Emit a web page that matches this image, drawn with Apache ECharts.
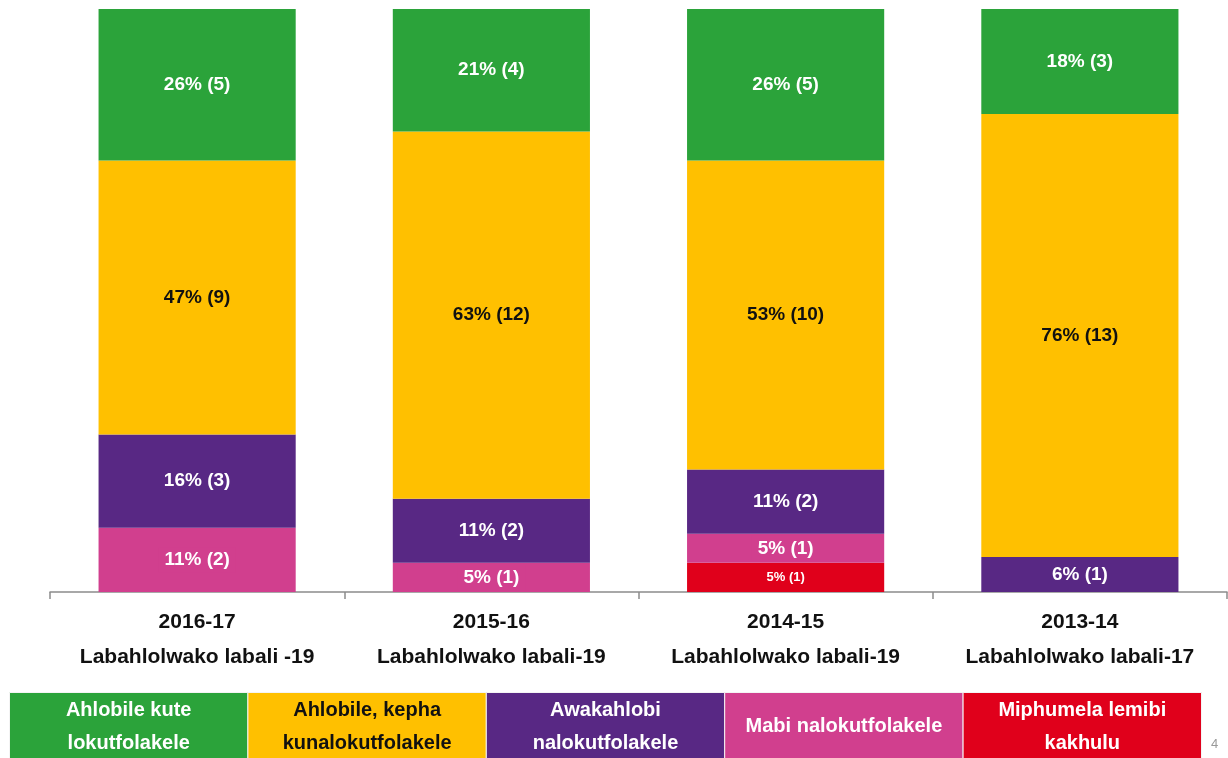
<!DOCTYPE html>
<html>
<head>
<meta charset="utf-8">
<script src="https://cdn.jsdelivr.net/npm/echarts@6/dist/echarts.min.js"></script>
<style>
  html, body { margin: 0; padding: 0; background: #fff; }
  #main { width: 1228px; height: 758px; }
</style>
</head>
<body>
<div id="main"></div>
<script>
const FONT = "'Liberation Sans Narrow', 'Arial Narrow', 'Liberation Sans', sans-serif";

// categories
const years = ['2016-17', '2015-16', '2014-15', '2013-14'];
const reviewers = ['Labahlolwako labali -19', 'Labahlolwako labali-19', 'Labahlolwako labali-19', 'Labahlolwako labali-17'];

// series, bottom to top
const seriesNames = [
    'Miphumela lemibi kakhulu',
    'Mabi nalokutfolakele',
    'Awakahlobi nalokutfolakele',
    'Ahlobile, kepha kunalokutfolakele',
    'Ahlobile kute lokutfolakele'
];
const legendLines = [
    'Ahlobile kute\nlokutfolakele',
    'Ahlobile, kepha\nkunalokutfolakele',
    'Awakahlobi\nnalokutfolakele',
    'Mabi nalokutfolakele',
    'Miphumela lemibi\nkakhulu'
];
const redPct = [null, null, 5, null];
const redCount = [null, null, 1, null];
const pinkPct = [11, 5, 5, null];
const pinkCount = [2, 1, 1, null];
const purplePct = [16, 11, 11, 6];
const purpleCount = [3, 2, 2, 1];
const yellowPct = [47, 63, 53, 76];
const yellowCount = [9, 12, 10, 13];
const greenPct = [26, 21, 26, 18];
const greenCount = [5, 4, 5, 3];

const colors = ['#e0001b', '#d13f8e', '#582884', '#ffc000', '#2ba33a'];
const pcts = [redPct, pinkPct, purplePct, yellowPct, greenPct];
const counts = [redCount, pinkCount, purpleCount, yellowCount, greenCount];
const labelColors = ['#fff', '#fff', '#fff', '#111', '#fff'];
const labelSizes = [13, 19, 19, 19, 19];

const series = seriesNames.map((name, i) => ({
    name: name,
    type: 'bar',
    stack: 'total',
    barWidth: '67%',
    data: pcts[i],
    itemStyle: { color: colors[i] },
    label: {
        show: true,
        position: 'inside',
        fontFamily: FONT,
        fontWeight: 'bold',
        fontSize: labelSizes[i],
        color: labelColors[i],
        backgroundColor: i === 1 ? colors[1] : 'transparent',
        padding: i === 1 ? [3, 6, 3, 6] : 0,
        formatter: p => p.value == null ? '' : p.value + '% (' + counts[i][p.dataIndex] + ')'
    }
}));

// legend boxes along the bottom
const boxW = 238.4, boxX = 9, boxY = 692;
const legendOrder = [4, 3, 2, 1, 0];
const graphics = legendOrder.map((si, k) => ({
    type: 'group',
    left: boxX + k * boxW,
    top: boxY,
    children: [
        {
            type: 'rect',
            shape: { x: 0, y: 0, width: boxW, height: 70 },
            style: { fill: colors[si], stroke: '#f4f4f4', lineWidth: 1 }
        },
        {
            type: 'text',
            x: boxW / 2,
            y: 34,
            style: {
                text: legendLines[k],
                fill: si === 3 ? '#111' : '#fff',
                font: 'bold 20px ' + FONT,
                align: 'center',
                verticalAlign: 'middle',
                lineHeight: 33
            }
        }
    ]
}));
graphics.push({
    type: 'text',
    left: 1211,
    top: 738,
    style: { text: '4', fill: '#999', font: '13px ' + FONT }
});

const chart = echarts.init(document.getElementById('main'));
chart.setOption({
    animation: false,
    textStyle: { fontFamily: FONT },
    grid: { left: 50, right: 1, top: 9, bottom: 166, containLabel: false },
    xAxis: {
        type: 'category',
        data: years,
        axisLine: { lineStyle: { color: '#8c8c8c', width: 1.5 } },
        axisTick: { show: true, length: 7, lineStyle: { color: '#8c8c8c', width: 1.5 } },
        axisLabel: {
            margin: 13,
            interval: 0,
            formatter: (v, i) => '{a|' + v + '}\n{b|' + reviewers[i] + '}',
            rich: {
                a: { fontFamily: FONT, fontSize: 21, fontWeight: 'bold', color: '#111', lineHeight: 35 },
                b: { fontFamily: FONT, fontSize: 21, fontWeight: 'bold', color: '#111', lineHeight: 35 }
            }
        }
    },
    yAxis: {
        type: 'value',
        min: 0,
        max: 100,
        show: false
    },
    series: series,
    graphic: graphics
});
</script>
</body>
</html>
